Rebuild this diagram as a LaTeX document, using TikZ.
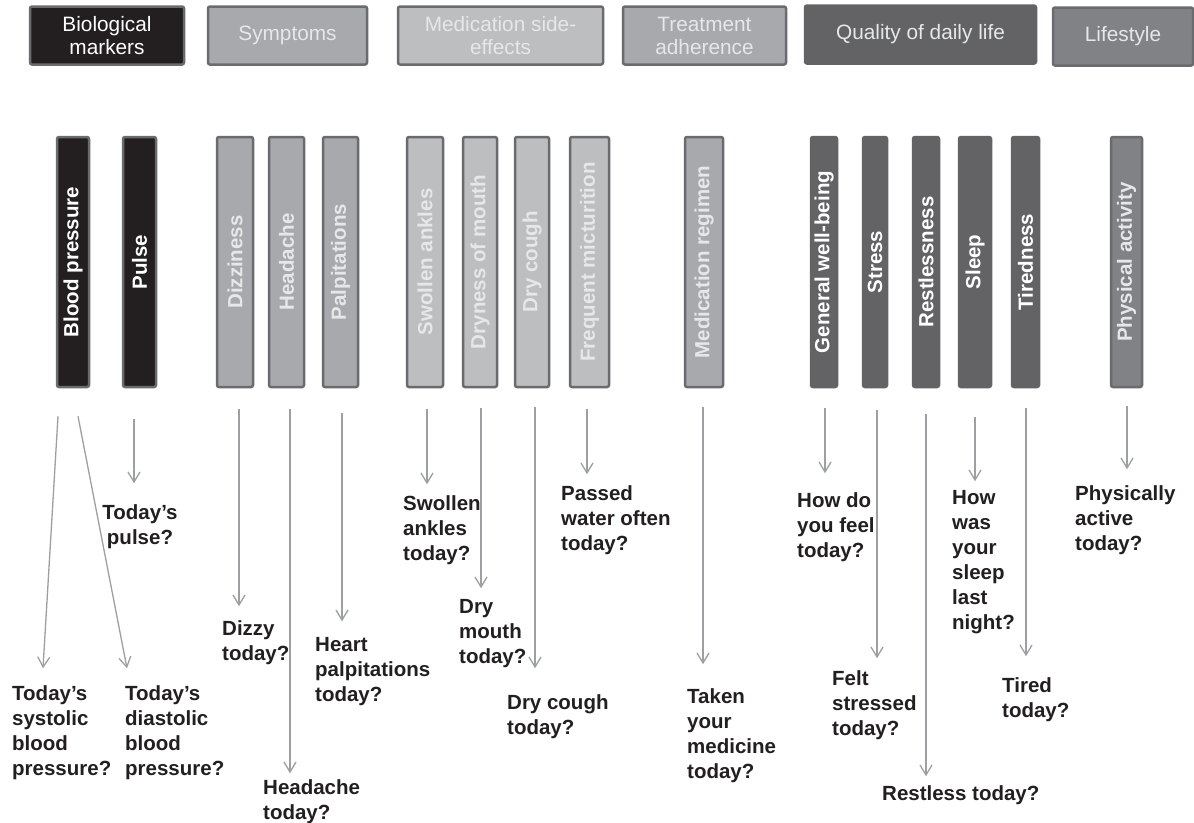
\documentclass[tikz,border=0pt]{standalone}
\usepackage{fontspec}
\setmainfont{Liberation Sans}
\usetikzlibrary{arrows.meta,calc}
\definecolor{cDark}{HTML}{231F20}
\definecolor{cSym}{HTML}{A7A9AC}
\definecolor{cMed}{HTML}{BCBEC0}
\definecolor{cQual}{HTML}{636365}
\definecolor{cLife}{HTML}{808285}
\definecolor{cBorder}{HTML}{6A6B6E}
\definecolor{cArrow}{HTML}{9D9FA2}
\definecolor{cLight}{HTML}{E6E7E8}
\definecolor{cText}{HTML}{231F20}
\begin{document}
\begin{tikzpicture}[x=1pt,y=-1pt,
  hdr/.style={draw=cBorder, line width=2.5pt, rounded corners=2pt, minimum height=58pt, inner sep=0pt, align=center, font=\fontsize{20.8}{23}\selectfont},
  barbox/.style={draw=cBorder, line width=2.5pt, rounded corners=2pt, minimum height=250pt, inner sep=0pt, font=\bfseries\fontsize{20.5}{24}\selectfont},
  qbar/.style={barbox, fill=cQual, draw=cQual, text=white},
  arr/.style={draw=cArrow, line width=1.3pt, -{Straight Barb[length=10pt,width=12pt]}},
  q/.style={anchor=north west, inner sep=0pt, align=left, text=cText, font=\bfseries\fontsize{20.5}{25}\selectfont}
]
\useasboundingbox[fill=white] (0,0) rectangle (1194,822);

% headers
\node[hdr, fill=cDark, text=white, minimum width=154pt] (hbio) at (107,35.5) {Biological\\markers};
\node[hdr, fill=cSym, text=cLight, minimum width=159pt] (hsym) at (287.5,35.5) {Symptoms};
\node[hdr, fill=cMed, text=cLight, minimum width=205pt] (hmed) at (500.5,35.5) {Medication side-\\effects};
\node[hdr, fill=cSym, text=cLight, minimum width=163pt] (htrt) at (704.5,35.5) {Treatment\\adherence};
\node[hdr, fill=cQual, draw=cQual, text=cLight, minimum width=231pt] (hqual) at (920.5,34.5) {Quality of daily life};
\node[hdr, fill=cLife, text=cLight, minimum width=140pt] (hlife) at (1123,36.5) {Lifestyle};

% bars
\node[barbox, fill=cDark, text=white, minimum width=32pt] (bp) at (73,262) {\rotatebox{90}{Blood pressure}};
\node[barbox, fill=cDark, text=white, minimum width=33pt] (pulse) at (139.5,262) {\rotatebox{90}{Pulse}};
\node[barbox, fill=cSym, text=cLight, minimum width=36pt] (dizz) at (235,262) {\rotatebox{90}{Dizziness}};
\node[barbox, fill=cSym, text=cLight, minimum width=35pt] (head) at (286.5,262) {\rotatebox{90}{Headache}};
\node[barbox, fill=cSym, text=cLight, minimum width=35pt] (palp) at (340.5,262) {\rotatebox{90}{Palpitations}};
\node[barbox, fill=cMed, text=cLight, minimum width=36pt] (swol) at (425,262) {\rotatebox{90}{Swollen ankles}};
\node[barbox, fill=cMed, text=cLight, minimum width=34pt] (dry) at (480,262) {\rotatebox{90}{Dryness of mouth}};
\node[barbox, fill=cMed, text=cLight, minimum width=34pt] (cough) at (532,262) {\rotatebox{90}{Dry cough}};
\node[barbox, fill=cMed, text=cLight, minimum width=39pt] (freq) at (589.5,262) {\rotatebox{90}{Frequent micturition}};
\node[barbox, fill=cSym, text=cLight, minimum width=38pt] (medreg) at (704,262) {\rotatebox{90}{Medication regimen}};
\node[qbar, minimum width=26pt] (gen) at (824,262) {\rotatebox{90}{General well-being}};
\node[qbar, minimum width=24pt] (stress) at (875,262) {\rotatebox{90}{Stress}};
\node[qbar, minimum width=26pt] (restl) at (926,262) {\rotatebox{90}{Restlessness}};
\node[qbar, minimum width=32pt] (sleep) at (975,262) {\rotatebox{90}{Sleep}};
\node[qbar, minimum width=27pt] (tired) at (1025.5,262) {\rotatebox{90}{Tiredness}};
\node[barbox, fill=cLife, text=cLight, minimum width=31pt] (phys) at (1126.5,262) {\rotatebox{90}{Physical activity}};

% questions
\node[q] (sysq) at (12,685.5) {Today's\\systolic\\blood\\pressure?};
\node[q] (diaq) at (125,685.5) {Today's\\diastolic\\blood\\pressure?};
\node[q, anchor=north, align=center] (pulseq) at (140,504.5) {Today's\\pulse?};
\node[q] (dizzq) at (222,620.5) {Dizzy\\today?};
\node[q] (headq) at (263,779.5) {Headache\\today?};
\node[q] (palpq) at (315,637.5) {Heart\\palpitations\\today?};
\node[q] (swolq) at (403,495.5) {Swollen\\ankles\\today?};
\node[q] (dryq) at (459,599.5) {Dry\\mouth\\today?};
\node[q] (coughq) at (507,694.5) {Dry cough\\today?};
\node[q] (freqq) at (561,485.5) {Passed\\water often\\today?};
\node[q] (medq) at (687,688.5) {Taken\\your\\medicine\\today?};
\node[q] (genq) at (797,492.5) {How do\\you feel\\today?};
\node[q] (stressq) at (832,670.5) {Felt\\stressed\\today?};
\node[q] (restlq) at (882,785.5) {Restless today?};
\node[q] (sleepq) at (952,490.5) {How\\was\\your\\sleep\\last\\night?};
\node[q] (tiredq) at (1002,677.5) {Tired\\today?};
\node[q] (physq) at (1075,485.5) {Physically\\active\\today?};

% arrows
\draw[arr] ($(bp.south)+(-15,28)$) -- ($(bp.south)+(-30,280)$);
\draw[arr] ($(bp.south)+(5,28)$) -- ($(bp.south)+(54,280)$);
\draw[arr] ($(pulse.south)+(-5.5,31)$) -- ($(pulse.south)+(-5.5,95)$);
\draw[arr] ($(dizz.south)+(4,21)$) -- ($(dizz.south)+(4,218)$);
\draw[arr] ($(head.south)+(3.5,21)$) -- ($(head.south)+(3.5,385)$);
\draw[arr] ($(palp.south)+(1.5,25)$) -- ($(palp.south)+(1.5,233)$);
\draw[arr] ($(swol.south)+(2,21)$) -- ($(swol.south)+(2,96)$);
\draw[arr] ($(dry.south)+(1,20)$) -- ($(dry.south)+(1,200)$);
\draw[arr] ($(cough.south)+(3,19)$) -- ($(cough.south)+(3,280)$);
\draw[arr] ($(freq.south)+(-2.5,21)$) -- ($(freq.south)+(-2.5,86)$);
\draw[arr] ($(medreg.south)+(-1,19)$) -- ($(medreg.south)+(-1,276)$);
\draw[arr] ($(gen.south)+(1,20)$) -- ($(gen.south)+(1,85)$);
\draw[arr] ($(stress.south)+(2,22)$) -- ($(stress.south)+(2,270)$);
\draw[arr] ($(restl.south)+(0,26)$) -- ($(restl.south)+(0,388)$);
\draw[arr] ($(sleep.south)+(0,29)$) -- ($(sleep.south)+(0,93)$);
\draw[arr] ($(tired.south)+(0.5,20)$) -- ($(tired.south)+(0.5,268)$);
\draw[arr] ($(phys.south)+(0.5,18)$) -- ($(phys.south)+(0.5,81)$);
\end{tikzpicture}
\end{document}
